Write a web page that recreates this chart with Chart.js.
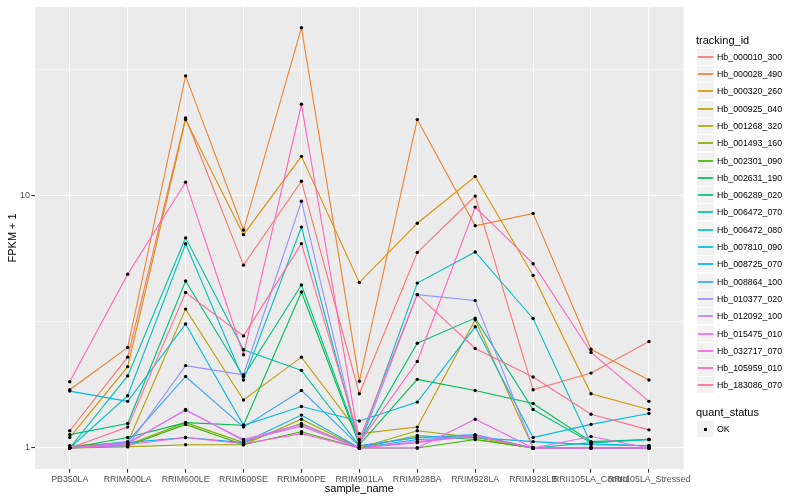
<!DOCTYPE html>
<html>
<head>
<meta charset="utf-8">
<script src="https://cdn.jsdelivr.net/npm/chart.js@4.4.0/dist/chart.umd.min.js"></script>
<style>
  body { margin: 0; background: #fff; }
  #wrap { position: relative; width: 800px; height: 500px; font-family: 'Liberation Sans', Arial, sans-serif; }
  #chart { position: absolute; left: 0; top: 0; }
  .lg-title { position: absolute; left: 696px; font-size: 11px; color: #000; line-height: 13px; }
  .lg-row { position: absolute; left: 697px; height: 16px; display: flex; align-items: center; }
  .lg-key { flex: none; width: 17px; height: 16px; background: #F2F2F2; position: relative; }
  .lg-key i { position: absolute; left: 1px; width: 15px; top: 7px; height: 2px; opacity: 0.85; }
  .lg-key b { position: absolute; left: 7px; top: 7px; width: 3px; height: 3px; background: #000; }
  .lg-text { margin-left: 3px; font-size: 8.8px; color: #000; white-space: nowrap; }
</style>
</head>
<body>
<div id="wrap">
  <canvas id="chart" width="800" height="500"></canvas>
</div>
<script>
/* ---------- data ---------- */
const categories = ["PB350LA", "RRIM600LA", "RRIM600LE", "RRIM600SE", "RRIM600PE", "RRIM901LA",
                    "RRIM928BA", "RRIM928LA", "RRIM928LB", "RRII105LA_Control", "RRII105LA_Stressed"];

const seriesNames = ["Hb_000010_300", "Hb_000028_490", "Hb_000320_260", "Hb_000925_040", "Hb_001268_320",
                     "Hb_001493_160", "Hb_002301_090", "Hb_002631_190", "Hb_006289_020", "Hb_006472_070",
                     "Hb_006472_080", "Hb_007810_090", "Hb_008725_070", "Hb_008864_100", "Hb_010377_020",
                     "Hb_012092_100", "Hb_015475_010", "Hb_032717_070", "Hb_105959_010", "Hb_183086_070"];

// ggplot default hue palette for 20 levels
const seriesColors = ["#F8766D", "#EA8331", "#D89000", "#C09B00", "#A3A500", "#7CAE00", "#39B600",
                      "#00BB4E", "#00BF7D", "#00C1A3", "#00BFC4", "#00BAE0", "#00B0F6", "#35A2FF",
                      "#9590FF", "#C77CFF", "#E76BF3", "#FA62DB", "#FF62BC", "#FF6C91"];

// FPKM + 1, one value per category
const hb000010_300 = [1.17, 2.29, 20.3, 5.30, 11.4, 1.64, 5.95, 9.95, 1.70, 1.98, 2.64];
const hb000028_490 = [1.70, 2.50, 29.8, 7.30, 46.2, 1.84, 20.0, 7.59, 8.50, 2.46, 1.86];
const hb000320_260 = [1.10, 2.10, 20.0, 7.00, 14.3, 4.52, 7.77, 11.9, 4.82, 1.64, 1.42];
const hb000925_040 = [1.02, 1.05, 3.55, 1.55, 2.29, 1.14, 1.21, 3.22, 1.00, 1.00, 1.00];
const hb001268_320 = [1.00, 1.01, 1.03, 1.03, 1.30, 1.00, 1.17, 1.10, 1.00, 1.00, 1.00];
const hb001493_160 = [1.00, 1.03, 1.26, 1.05, 1.25, 1.00, 1.12, 1.08, 1.00, 1.00, 1.00];
const hb002301_090 = [1.00, 1.02, 1.24, 1.03, 1.16, 1.00, 1.00, 1.08, 1.00, 1.00, 1.00];
const hb002631_190 = [1.00, 1.10, 1.26, 1.23, 4.15, 1.03, 1.87, 1.69, 1.50, 1.06, 1.08];
const hb006289_020 = [1.13, 1.25, 4.59, 1.92, 4.42, 1.05, 2.60, 3.27, 1.42, 1.05, 1.08];
const hb006472_070 = [1.00, 1.93, 6.80, 2.45, 2.03, 1.02, 1.10, 1.12, 1.00, 1.05, 1.08];
const hb006472_080 = [1.00, 1.61, 6.44, 1.86, 7.50, 1.03, 4.50, 5.98, 3.26, 1.04, 1.02];
const hb007810_090 = [1.68, 1.53, 3.10, 1.23, 1.46, 1.28, 1.52, 3.02, 1.10, 1.24, 1.37];
const hb008725_070 = [1.00, 1.05, 1.10, 1.05, 1.35, 1.00, 1.08, 1.10, 1.06, 1.03, 1.02];
const hb008864_100 = [1.00, 1.06, 1.92, 1.21, 1.69, 1.02, 1.10, 1.13, 1.00, 1.00, 1.00];
const hb010377_020 = [1.00, 1.02, 2.12, 1.95, 9.50, 1.02, 4.05, 3.84, 1.00, 1.00, 1.00];
const hb012092_100 = [1.00, 1.04, 1.42, 1.07, 1.22, 1.00, 1.06, 1.12, 1.00, 1.00, 1.00];
const hb015475_010 = [1.00, 1.05, 1.41, 1.08, 1.24, 1.00, 1.00, 1.30, 1.00, 1.11, 1.00];
const hb032717_070 = [1.00, 1.03, 1.10, 1.04, 1.14, 1.00, 1.05, 1.12, 1.00, 1.00, 1.00];
const hb105959_010 = [1.83, 4.88, 11.3, 2.34, 23.0, 1.05, 2.20, 9.00, 5.37, 2.39, 1.53];
const hb183086_070 = [1.00, 1.21, 4.13, 2.78, 6.45, 1.08, 4.05, 2.48, 1.91, 1.36, 1.18];

const seriesValues = [hb000010_300, hb000028_490, hb000320_260, hb000925_040, hb001268_320,
                      hb001493_160, hb002301_090, hb002631_190, hb006289_020, hb006472_070,
                      hb006472_080, hb007810_090, hb008725_070, hb008864_100, hb010377_020,
                      hb012092_100, hb015475_010, hb032717_070, hb105959_010, hb183086_070];

// y breaks: labelled majors + unlabelled minors (ggplot log10 style)
const yMajor = [1, 10];
const yMinor = [3.1623, 31.623];

/* ---------- scale limits with ggplot's 5% / 0.6 expansion ---------- */
const allVals = seriesValues.flat();
const lgLo = Math.log10(Math.min(...allVals));
const lgHi = Math.log10(Math.max(...allVals));
const pad = (lgHi - lgLo) * 0.05;
const yMin = Math.pow(10, lgLo - pad);
const yMax = Math.pow(10, lgHi + pad);

const toXY = vals => vals.map((v, i) => ({ x: i, y: v }));

const datasets = [];
// lines: first series at the bottom, like ggplot
seriesValues.forEach((vals, i) => {
  datasets.push({
    label: seriesNames[i],
    data: toXY(vals),
    borderColor: seriesColors[i],
    borderWidth: 1.1,
    pointRadius: 0,
    fill: false,
    tension: 0,
    order: 100 - i,
  });
});
// points on top of every line
seriesValues.forEach((vals, i) => {
  datasets.push({
    label: seriesNames[i] + ' pts',
    data: toXY(vals),
    showLine: false,
    pointRadius: 1.7,
    pointBackgroundColor: '#000',
    pointBorderWidth: 0,
    order: 0,
  });
});

// grey panel behind the grid
const panelBg = {
  id: 'panelBg',
  beforeDraw(chart) {
    const { ctx, chartArea: a } = chart;
    ctx.save();
    ctx.fillStyle = '#EBEBEB';
    ctx.fillRect(a.left, a.top, a.right - a.left, a.bottom - a.top);
    ctx.restore();
  }
};

const isMajorY = v => yMajor.some(m => Math.abs(m - v) < 1e-6);

Chart.defaults.font.family = "'Liberation Sans', Arial, sans-serif";

new Chart(document.getElementById('chart'), {
  type: 'line',
  data: { datasets },
  plugins: [panelBg],
  options: {
    responsive: false,
    animation: false,
    devicePixelRatio: 1,
    layout: { padding: { top: 5, right: 116.3, left: 0, bottom: 0 } },
    plugins: { legend: { display: false }, tooltip: { enabled: false } },
    scales: {
      x: {
        type: 'linear',
        min: -0.6,
        max: 10.6,
        afterBuildTicks: s => { s.ticks = categories.map((c, i) => ({ value: i })); },
        afterFit: s => { s.height = 31; },
        border: { display: false },
        grid: { color: '#FFFFFF', lineWidth: 1.07, tickLength: 3.7, tickColor: '#333333', tickWidth: 1.07 },
        ticks: {
          autoSkip: false, maxRotation: 0, padding: 1.5,
          color: '#4D4D4D', font: { size: 8.8 },
          callback: v => categories[v],
        },
        title: { display: true, text: 'sample_name', color: '#000', font: { size: 11 }, padding: { top: 0, bottom: 4 } },
      },
      y: {
        type: 'logarithmic',
        min: yMin,
        max: yMax,
        afterBuildTicks: s => { s.ticks = yMajor.concat(yMinor).sort((a, b) => a - b).map(v => ({ value: v })); },
        afterFit: s => { s.width = 35; },
        border: { display: false },
        grid: {
          color: '#FFFFFF',
          lineWidth: c => isMajorY(c.tick.value) ? 1.07 : 0.55,
          tickLength: 3.7,
          tickColor: c => isMajorY(c.tick.value) ? '#333333' : 'rgba(0,0,0,0)',
          tickWidth: 1.07,
        },
        ticks: {
          autoSkip: false, padding: 1.5,
          color: '#4D4D4D', font: { size: 8.8 },
          callback: v => isMajorY(v) ? String(v) : '',
        },
        title: { display: true, text: 'FPKM + 1', color: '#000', font: { size: 11 }, padding: { top: 6, bottom: 0 } },
      },
    },
  },
});

/* ---------- ggplot-style legend on the right ---------- */
const wrap = document.getElementById('wrap');
function addTitle(text, cy) {
  const d = document.createElement('div');
  d.className = 'lg-title';
  d.style.top = Math.round(cy - 6.5) + 'px';
  d.textContent = text;
  wrap.appendChild(d);
}
addTitle('tracking_id', 40.7);
seriesNames.forEach((name, i) => {
  const cy = 56.7 + i * 17.3;
  const row = document.createElement('div');
  row.className = 'lg-row';
  row.style.top = Math.round(cy - 8) + 'px';
  row.innerHTML = `<span class="lg-key"><i style="background:${seriesColors[i]}"></i></span><span class="lg-text">${name}</span>`;
  wrap.appendChild(row);
});
addTitle('quant_status', 412.3);
const ok = document.createElement('div');
ok.className = 'lg-row';
ok.style.top = Math.round(429 - 8) + 'px';
ok.innerHTML = `<span class="lg-key"><b></b></span><span class="lg-text">OK</span>`;
wrap.appendChild(ok);
</script>
</body>
</html>
